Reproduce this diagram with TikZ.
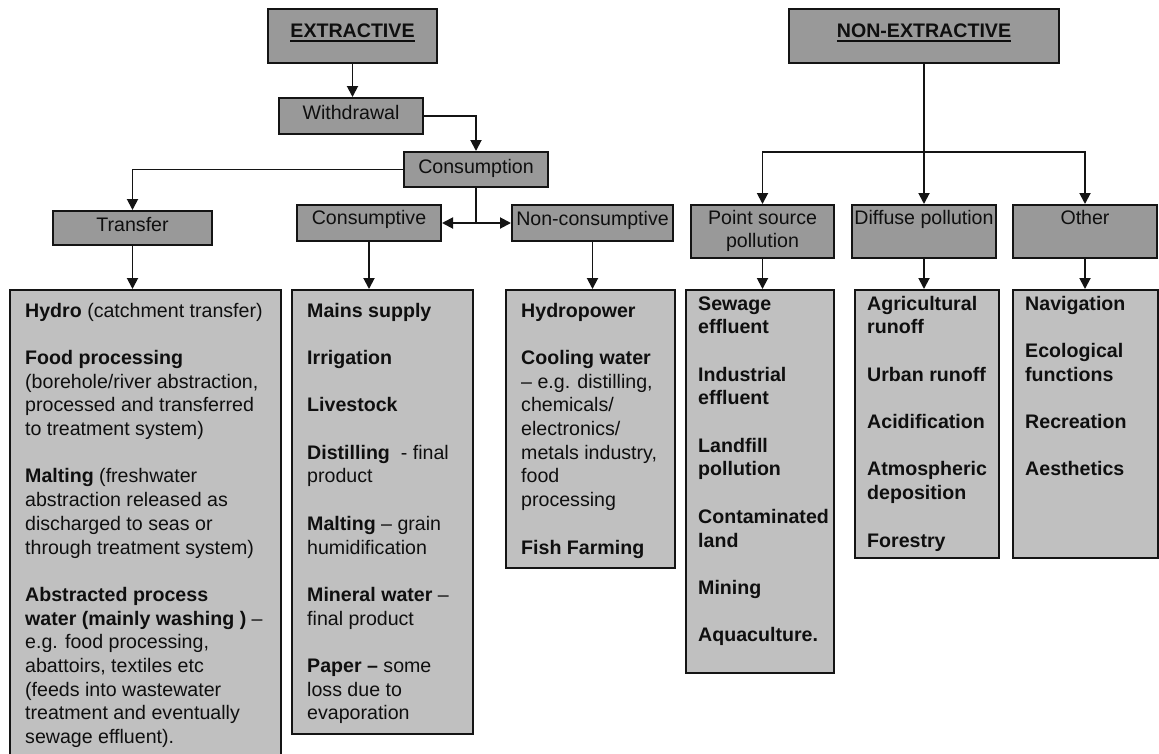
\documentclass[tikz,border=0pt]{standalone}
\usepackage{fontspec}
\setmainfont{Liberation Sans}
\usetikzlibrary{arrows.meta}

\definecolor{headfill}{RGB}{153,153,153}
\definecolor{listfill}{RGB}{192,192,192}
\definecolor{edgecol}{RGB}{20,20,20}
\definecolor{inkcol}{RGB}{15,15,15}

% thick underline for the two column headings
\newcommand{\headul}[1]{\setbox0\hbox{#1}\rlap{\rule[-5pt]{\wd0}{2pt}}\box0}
% a left-aligned stack of lines whose baseline is the first line
\newenvironment{lines}{\begin{tabular}[t]{@{}l@{}}}{\end{tabular}}

\tikzset{
  headbox/.style={draw=edgecol, line width=2pt, fill=headfill, inner sep=0pt, anchor=base},
  listbox/.style={draw=edgecol, line width=2pt, fill=listfill, inner sep=0pt, anchor=north west},
  listtext/.style={inner sep=0pt, anchor=base west},
  flow/.style={draw=edgecol, line width=1.9pt},
  arr/.style={flow, -{Triangle[length=11pt,width=11pt]}},
}

\begin{document}
\begin{tikzpicture}[x=1pt, y=-1pt, font=\fontsize{19.6pt}{23.7pt}\selectfont, text=inkcol]
\useasboundingbox (0,0) rectangle (1159,753);
\clip (0,0) rectangle (1159,753);

% ---------- extractive branch: heading boxes ----------
\node[headbox, minimum width=169pt, text height=28pt, text depth=26pt] (ext) at (352.5,37) {\textbf{\headul{EXTRACTIVE}}};
\node[headbox, minimum width=144pt, text height=21pt, text depth=15pt] (wd) at (351,119) {Withdrawal};
\node[headbox, minimum width=144pt, text height=21pt, text depth=14pt] (cons) at (476,173) {Consumption};
\node[headbox, minimum width=159pt, text height=20pt, text depth=14pt] (tr) at (132.5,231) {Transfer};
\node[headbox, minimum width=144pt, text height=19pt, text depth=17pt] (cs) at (369,224) {Consumptive};
\node[headbox, minimum width=161pt, text height=20pt, text depth=16pt] (ncs) at (592.5,225) {Non-consumptive};

% ---------- non-extractive branch: heading boxes ----------
\node[headbox, minimum width=270pt, text height=28pt, text depth=26pt] (nex) at (924,37) {\textbf{\headul{NON-EXTRACTIVE}}};
\node[headbox, minimum width=143pt, text height=19pt, text depth=34pt] (ps) at (762.5,224)
  {\begin{tabular}[t]{@{}c@{}}Point source\\pollution\end{tabular}};
\node[headbox, minimum width=144pt, text height=19pt, text depth=34pt] (df) at (924,224) {Diffuse pollution};
\node[headbox, minimum width=144pt, text height=19pt, text depth=34pt] (ot) at (1085,224) {Other};

% ---------- list boxes ----------
\node[listbox, minimum width=271pt, minimum height=480pt] (trl) at (9,289) {};
\node[listbox, minimum width=181pt, minimum height=444pt] (csl) at (291,289) {};
\node[listbox, minimum width=169pt, minimum height=278pt] (ncsl) at (505,289) {};
\node[listbox, minimum width=148pt, minimum height=383pt] (psl) at (685,289) {};
\node[listbox, minimum width=144pt, minimum height=268pt] (dfl) at (854,289) {};
\node[listbox, minimum width=145pt, minimum height=268pt] (otl) at (1012,289) {};

% ---------- list texts ----------
\node[listtext] (trl-t) at (25,317) {\begin{lines}
\textbf{Hydro} (catchment transfer)\\ \\
\textbf{Food processing}\\
(borehole/river abstraction,\\
processed and transferred\\
to treatment system)\\ \\
\textbf{Malting} (freshwater\\
abstraction released as\\
discharged to seas or\\
through treatment system)\\ \\
\textbf{Abstracted process}\\
\textbf{water (mainly washing )} --\\
e.g. food processing,\\
abattoirs, textiles etc\\
(feeds into wastewater\\
treatment and eventually\\
sewage effluent).
\end{lines}};

\node[listtext] (csl-t) at (307,317) {\begin{lines}
\textbf{Mains supply}\\ \\
\textbf{Irrigation}\\ \\
\textbf{Livestock}\\ \\
\textbf{Distilling}\ \ - final\\
product\\ \\
\textbf{Malting} -- grain\\
humidification\\ \\
\textbf{Mineral water} --\\
final product\\ \\
\textbf{Paper --} some\\
loss due to\\
evaporation
\end{lines}};

\node[listtext] (ncsl-t) at (521,317) {\begin{lines}
\textbf{Hydropower}\\ \\
\textbf{Cooling water}\\
-- e.g. distilling,\\
chemicals/\\
electronics/\\
metals industry,\\
food\\
processing\\ \\
\textbf{Fish Farming}
\end{lines}};

\node[listtext, font=\fontsize{19.6pt}{23.7pt}\selectfont\bfseries] (psl-t) at (698,310) {\begin{lines}
Sewage\\
effluent\\ \\
Industrial\\
effluent\\ \\
Landfill\\
pollution\\ \\
Contaminated\\
land\\ \\
Mining\\ \\
Aquaculture.
\end{lines}};

\node[listtext, font=\fontsize{19.6pt}{23.7pt}\selectfont\bfseries] (dfl-t) at (867,310) {\begin{lines}
Agricultural\\
runoff\\ \\
Urban runoff\\ \\
Acidification\\ \\
Atmospheric\\
deposition\\ \\
Forestry
\end{lines}};

\node[listtext, font=\fontsize{19.6pt}{23.7pt}\selectfont\bfseries] (otl-t) at (1025,310) {\begin{lines}
Navigation\\ \\
Ecological\\
functions\\ \\
Recreation\\ \\
Aesthetics
\end{lines}};

% ---------- connectors: extractive ----------
\draw[arr] (ext.south) -- (ext.south |- wd.north);
\draw[arr] (wd.east) -| (cons.north);
\draw[arr] (cons.west) -| (tr.north);
\coordinate (split) at (cons.south |- cs.east);
\draw[flow] (cons.south) -- (split);
\draw[arr] (split) -- (cs.east);
\draw[arr] (split) -- (ncs.west);
\draw[arr] (tr.south) -- (tr.south |- trl.north);
\draw[arr] (cs.south) -- (cs.south |- csl.north);
\draw[arr] (ncs.south) -- (ncs.south |- ncsl.north);

% ---------- connectors: non-extractive ----------
\coordinate (forkrow) at (0,152);
\coordinate (fork) at (nex.south |- forkrow);
\draw[flow] (nex.south) -- (fork);
\draw[arr] (fork) -| (ps.north);
\draw[arr] (fork) -- (df.north);
\draw[arr] (fork) -| (ot.north);
\draw[arr] (ps.south) -- (ps.south |- psl.north);
\draw[arr] (df.south) -- (df.south |- dfl.north);
\draw[arr] (ot.south) -- (ot.south |- otl.north);
\end{tikzpicture}
\end{document}
